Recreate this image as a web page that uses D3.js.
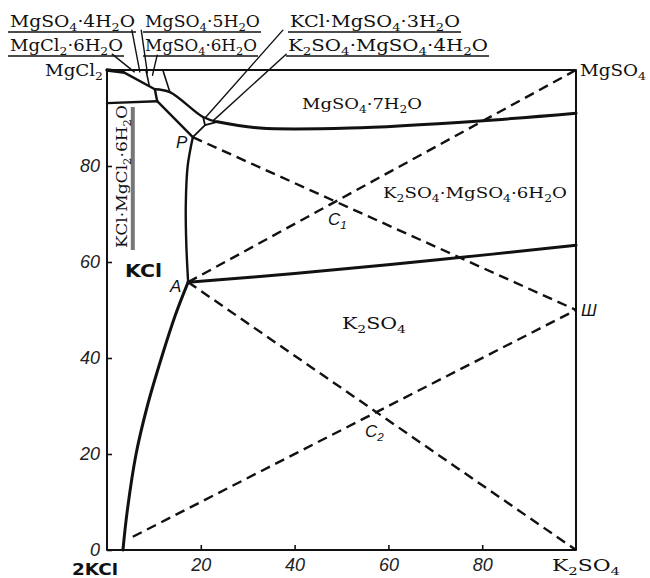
<!DOCTYPE html>
<html><head><meta charset="utf-8">
<script src="https://cdn.jsdelivr.net/npm/d3@7"></script>
<style>body{margin:0;background:#fff}svg{display:block}</style>
</head><body>
<svg id="c" width="650" height="578"></svg>
<script>
// ---- data (composition %, Jänecke projection) ----
const xTickValues = [20, 40, 60, 80];
const yTickValues = [0, 20, 40, 60, 80];
const frame = [[0,0],[100,0],[100,100],[0,100],[0,0]];
// solid boundary curves
const kclK2so4 = [[3.4,0],[4.3,8],[6.2,20],[8.6,30],[11.6,40],[14.6,49],[17.3,55.8]];
const kclAP = [[17.3,55.8],[16.9,64],[16.8,72],[17.2,80],[18.3,86.0]];
const k2so4Schoenite = [[17.3,55.8],[40,57.6],[70,60.4],[100,63.5]];
const heptaLower = [[23.5,89.2],[32.6,87.9],[51.8,87.9],[79.5,89.4],[100,91.0]];
const bischofiteTop = [[0,100],[3.4,99.6],[10.2,96.0],[10.7,93.5]];
const bischofiteLeft = [[0,93.1],[10.7,93.5]];
const bandLower = [[10.7,93.5],[18.3,86.0]];
const bandUpper = [[10.2,96.0],[13.4,95.4],[20.5,90.2],[23.5,89.2]];
const hydrateA = [[8.3,100],[9.0,96.8]];
const hydrateB = [[11.9,100],[13.4,95.4]];
const junctionLines = [[[18.3,86.0],[20.9,88.5]],[[20.9,88.5],[20.5,90.2]],[[20.9,88.5],[23.5,89.2]]];
const carnalliteBar = [[5.5,92.3],[5.5,62.5]];
// dashed connecting lines
const dashed = [
  [[5.5,2.75],[100,50]],
  [[17.3,55.8],[100,0]],
  [[17.3,55.8],[100,100]],
  [[18.3,86.0],[100,50]]
];
// leader lines from labels (data coords)
const leaders = [
  [[1.1,103.3],[5.8,99.6]],
  [[5.3,108.3],[7.0,99.6]],
  [[7.3,108.3],[8.6,99.4]],
  [[10.7,103.1],[9.7,98.9]],
  [[37.5,108.3],[20.9,90.0]],
  [[38.2,103.3],[22.6,89.4]]
];
const topLabels = [
  {t:"MgSO_4·4H_2O", x:10, y:27, w:125},
  {t:"MgCl_2·6H_2O", x:10, y:51, w:113},
  {t:"MgSO_4·5H_2O", x:145, y:27, w:115},
  {t:"MgSO_4·6H_2O", x:145, y:51, w:112},
  {t:"KCl·MgSO_4·3H_2O", x:290, y:27, w:170},
  {t:"K_2SO_4·MgSO_4·4H_2O", x:288, y:51, w:200}
];

// ---- drawing ----
const svg = d3.select("#c");
const x = d3.scaleLinear().domain([0,100]).range([107,576]);
const y = d3.scaleLinear().domain([0,100]).range([550,70]);
const lin = d3.line().x(d=>x(d[0])).y(d=>y(d[1]));
const smooth = d3.line().x(d=>x(d[0])).y(d=>y(d[1])).curve(d3.curveCatmullRom.alpha(0.5));

function path(data, gen, w, extra){
  const p = svg.append("path").attr("d", gen(data)).attr("fill","none")
    .attr("stroke","#111").attr("stroke-width", w).attr("stroke-linejoin","round").attr("stroke-linecap","round");
  if (extra) extra(p);
  return p;
}

path(frame, lin, 2);
dashed.forEach(d => path(d, lin, 2.4, p=>p.attr("stroke-dasharray","10,6").attr("stroke-linecap","butt")));
path(kclK2so4, smooth, 3);
path(kclAP, smooth, 2.4);
path(k2so4Schoenite, smooth, 3);
path(heptaLower, smooth, 3);
path(bischofiteTop.slice(0,2), lin, 3.5);
path(bischofiteTop.slice(1), lin, 2.4);
path(bischofiteLeft, lin, 2.4);
path(bandLower, lin, 2.4);
path(bandUpper, smooth, 2.4);
path(hydrateA, lin, 1.6);
path(hydrateB, lin, 1.6);
junctionLines.forEach(d => path(d, lin, 1.8));
path(carnalliteBar, lin, 4, p=>p.attr("stroke","#777").attr("stroke-linecap","butt"));
leaders.forEach(d => path(d, lin, 1.4));

// axes (inward ticks)
const gx = svg.append("g").attr("transform","translate(0,550)")
  .call(d3.axisBottom(x).tickValues(xTickValues).tickSizeInner(-5).tickSizeOuter(0).tickPadding(8));
const gy = svg.append("g").attr("transform","translate(107,0)")
  .call(d3.axisLeft(y).tickValues(yTickValues).tickSizeInner(-5).tickSizeOuter(0).tickPadding(7));
[gx, gy].forEach(g => {
  g.select(".domain").remove();
  g.selectAll("line").attr("stroke","#111").attr("stroke-width",1.6);
  g.selectAll("text").attr("font-family","Liberation Sans, Arial, sans-serif")
    .attr("font-style","italic").attr("font-size",18).attr("fill","#222");
});
gy.selectAll(".tick text").attr("dy","0.3em");

// rich text with subscripts
function rich(sel, s, size){
  const parts = s.split(/(_\d)/);
  let sub = false;
  parts.forEach(pt => {
    if (!pt) return;
    if (pt.startsWith("_")) {
      sel.append("tspan").attr("font-size", size*0.68).attr("dy", size*0.25).text(pt.slice(1));
      sub = true;
    } else {
      const ts = sel.append("tspan").text(pt);
      if (sub) { ts.attr("dy", -size*0.25); sub = false; }
    }
  });
}
function label(s, px, py, opts){
  const o = Object.assign({size:17, family:"DejaVu Serif, serif", anchor:"start", weight:"normal", style:"normal"}, opts||{});
  const t = svg.append("text").attr("x",px).attr("y",py).attr("font-family",o.family)
    .attr("font-size",o.size).attr("text-anchor",o.anchor).attr("font-weight",o.weight)
    .attr("font-style",o.style).attr("fill","#111");
  if (o.w) t.attr("textLength",o.w).attr("lengthAdjust","spacingAndGlyphs");
  if (o.rotate) t.attr("transform",`rotate(${o.rotate},${px},${py})`);
  rich(t, s, o.size);
  return t;
}

topLabels.forEach(l => {
  label(l.t, l.x, l.y, {size:17, w:l.w});
  svg.append("line").attr("x1",l.x-2).attr("x2",l.x+l.w+1).attr("y1",l.y+5).attr("y2",l.y+5)
    .attr("stroke","#111").attr("stroke-width",1.4);
});

label("MgCl_2", 45, 76, {size:17, w:58});
label("MgSO_4", 580, 76, {size:17, w:66});
label("MgSO_4·7H_2O", 302, 109, {size:15, w:120});
label("K_2SO_4·MgSO_4·6H_2O", 383, 198, {size:15, w:184});
label("KCl", 125, 277, {size:17, family:"DejaVu Sans, sans-serif", weight:"bold", w:37});
label("K_2SO_4", 342, 329, {size:16, w:64});
label("KCl·MgCl_2·6H_2O", 127, 248, {size:15, w:143, rotate:-90});
label("2KCl", 72, 575, {size:15, family:"DejaVu Sans, sans-serif", weight:"bold", w:46});
label("K_2SO_4", 552, 571, {size:16, w:68});
label("P", 176, 148, {size:17, family:"Liberation Sans, sans-serif", style:"italic"});
label("A", 170, 292, {size:17, family:"Liberation Sans, sans-serif", style:"italic"});
label("C_1", 328, 225, {size:17, family:"Liberation Sans, sans-serif", style:"italic"});
label("C_2", 365, 437, {size:17, family:"Liberation Sans, sans-serif", style:"italic"});
label("Ш", 581, 316, {size:17, family:"Liberation Sans, sans-serif", style:"italic"});
</script>
</body></html>
